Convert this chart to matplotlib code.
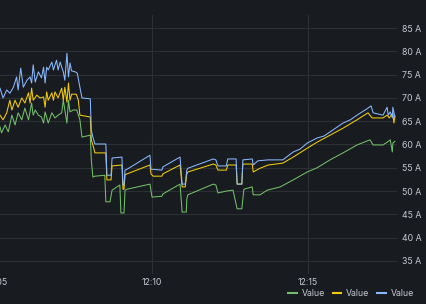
import matplotlib
matplotlib.use("Agg")
import matplotlib.pyplot as plt

plt.rcParams['font.family'] = ['Inter', 'DejaVu Sans']

# seconds after 12:05:00, current in A
green_t = [7, 10, 17, 23, 30, 36, 42, 49, 55, 62, 68, 71, 75, 81, 87, 91, 94, 100, 107, 113,
           119, 126, 129, 132, 136, 139, 142, 148, 155, 161, 165, 181, 183, 186, 190, 209, 211,
           219, 223, 238, 240, 246, 248, 252, 296, 300, 319, 321, 354, 358, 366, 367, 369, 418,
           423, 427, 443, 456, 464, 473, 477, 493, 495, 508, 522, 547, 572, 599, 618, 643, 668,
           695, 720, 726, 745, 753, 759, 763, 764, 768]
green_v = [63.8, 62.5, 64.2, 62.7, 66.3, 64.2, 66.8, 65.3, 67.8, 65.3, 68.9, 66.3, 67.4, 66.3,
           65.9, 64.6, 67.0, 64.6, 66.8, 65.7, 66.3, 66.8, 69.5, 67.4, 64.6, 69.5, 67.0, 67.4,
           67.4, 65.3, 61.6, 62.0, 56.7, 53.0, 53.2, 53.4, 47.7, 47.7, 50.2, 51.3, 45.3, 45.3,
           50.2, 50.4, 51.5, 48.7, 48.9, 49.4, 51.5, 45.5, 45.5, 48.3, 49.2, 51.5, 51.3, 49.6,
           50.0, 50.2, 46.2, 46.2, 50.4, 50.9, 49.2, 49.2, 50.2, 50.9, 52.4, 54.1, 55.0, 56.7,
           58.2, 59.9, 61.0, 59.9, 59.9, 60.5, 61.0, 58.4, 60.3, 60.7]

yellow_t = [7, 13, 20, 26, 30, 36, 42, 49, 55, 62, 65, 68, 71, 78, 84, 91, 94, 97, 100, 107,
            110, 113, 119, 126, 129, 132, 136, 139, 142, 145, 154, 158, 161, 181, 183, 186, 190,
            211, 213, 221, 223, 242, 244, 246, 248, 252, 296, 298, 302, 319, 321, 354, 358, 364,
            367, 369, 418, 423, 427, 443, 446, 462, 464, 473, 475, 493, 495, 508, 524, 552, 572,
            599, 618, 643, 668, 695, 716, 724, 745, 753, 757, 764, 766, 768]
yellow_v = [66.3, 65.3, 66.8, 69.5, 67.4, 69.5, 68.0, 70.0, 68.9, 71.1, 68.9, 72.1, 69.5, 70.6,
            70.0, 70.2, 68.0, 71.3, 69.5, 71.1, 69.5, 71.3, 70.0, 72.1, 69.5, 72.3, 69.1, 73.2,
            69.5, 70.8, 70.8, 69.5, 66.3, 65.9, 61.0, 59.9, 58.2, 58.2, 52.4, 52.4, 55.4, 55.6,
            50.4, 50.4, 53.5, 53.7, 55.6, 53.7, 53.2, 53.2, 53.7, 55.6, 50.9, 50.9, 53.7, 54.1,
            55.8, 55.6, 54.5, 54.5, 55.6, 55.6, 51.5, 51.5, 55.8, 55.8, 54.1, 54.9, 55.6, 56.0,
            57.3, 59.2, 60.5, 62.0, 63.5, 65.3, 66.8, 65.7, 65.7, 66.3, 65.7, 66.8, 64.6, 66.1]

blue_t = [7, 13, 20, 26, 33, 39, 42, 47, 52, 59, 65, 68, 71, 75, 81, 87, 91, 94, 97, 100, 107,
          110, 113, 116, 119, 123, 126, 129, 132, 136, 139, 142, 145, 152, 156, 161, 165, 181,
          183, 186, 190, 211, 213, 221, 223, 242, 244, 246, 248, 252, 296, 298, 319, 321, 354,
          358, 364, 367, 369, 418, 423, 427, 443, 446, 462, 464, 473, 475, 493, 495, 504, 524,
          552, 572, 585, 599, 618, 631, 643, 668, 682, 695, 716, 722, 726, 745, 753, 755, 759,
          763, 764, 768]
blue_v = [72.1, 70.0, 71.7, 71.0, 72.3, 74.5, 71.7, 76.4, 72.3, 73.8, 74.5, 73.2, 77.1, 73.4,
          75.6, 74.3, 76.6, 73.2, 76.6, 76.0, 77.7, 76.0, 77.1, 78.1, 76.0, 77.7, 76.6, 75.6,
          73.8, 79.6, 74.5, 77.5, 75.8, 75.6, 75.3, 72.3, 70.0, 69.8, 63.1, 61.6, 60.1, 60.1,
          53.4, 53.4, 57.1, 57.3, 51.3, 51.3, 54.5, 54.7, 57.7, 54.7, 54.5, 55.2, 57.3, 51.5,
          51.5, 54.5, 54.9, 56.9, 56.7, 55.4, 55.4, 56.9, 56.9, 51.5, 51.5, 56.7, 56.9, 55.6,
          56.5, 56.7, 56.7, 58.4, 59.0, 60.3, 61.4, 61.8, 62.7, 64.6, 65.3, 66.3, 67.8, 68.3,
          66.8, 66.3, 68.0, 66.3, 67.0, 65.7, 68.0, 65.9]

series_colors = ['#73BF69', '#F2CC0C', '#8AB8FF']
series_labels = ['Value', 'Value', 'Value']
y_ticks = [35, 40, 45, 50, 55, 60, 65, 70, 75, 80, 85]
x_ticks = [0, 300, 600]
x_tick_labels = ['12:05', '12:10', '12:15']

bg = '#181b1f'
grid_col = '#2c2f34'
text_col = '#c7c7d1'

fig = plt.figure(figsize=(4.26, 3.04), dpi=100, facecolor=bg)
W, H = 426, 304
# the panel is cropped on the left, so the axes start just off-canvas
ax = fig.add_axes([-10 / W, (H - 274) / H, 407 / W, 259 / H], facecolor=bg)

for t, v, c, lab in zip([green_t, yellow_t, blue_t], [green_v, yellow_v, blue_v],
                        series_colors, series_labels):
    ax.plot(t, v, color=c, lw=0.75, label=lab)

ax.set_xlim(-12.2, 772)
ax.set_ylim(32.2, 87.8)
ax.set_xticks(x_ticks)
ax.set_xticklabels(x_tick_labels)
ax.set_yticks(y_ticks)
ax.set_yticklabels([f'{v} A' for v in y_ticks])
ax.yaxis.tick_right()
ax.tick_params(axis='both', length=0, colors=text_col, labelsize=6.3)
ax.tick_params(axis='x', pad=3)
ax.tick_params(axis='y', pad=3.5)
ax.grid(True, color=grid_col, lw=0.8)
for s in ax.spines.values():
    s.set_visible(False)

leg = fig.legend(loc='center right', bbox_to_anchor=(414 / W, 1 - 294 / H), ncol=3,
                 frameon=False, fontsize=6.3, handlelength=1.0, handletextpad=0.55,
                 columnspacing=0.9, borderaxespad=0, borderpad=0)
for txt in leg.get_texts():
    txt.set_color(text_col)
for line in leg.get_lines():
    line.set_linewidth(1.5)

fig.savefig('out.png', dpi=100, facecolor=bg)
